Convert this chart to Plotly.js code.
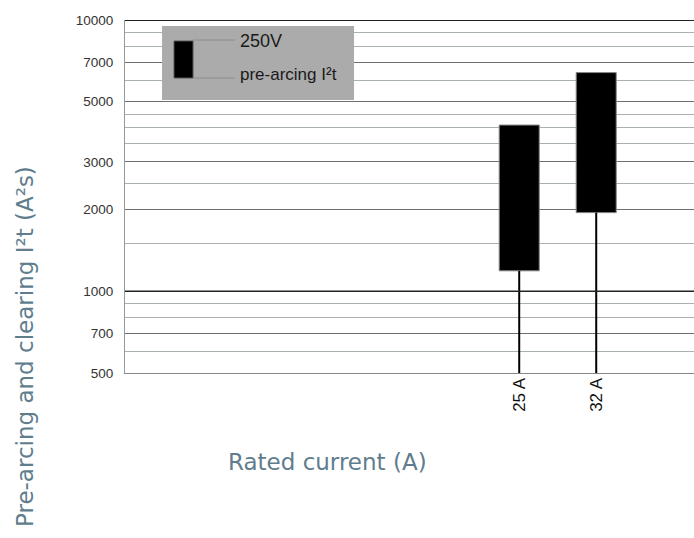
<!DOCTYPE html>
<html><head><meta charset="utf-8">
<script src="https://cdn.plot.ly/plotly-3.0.1.min.js"></script>
<style>html,body{margin:0;padding:0;background:#fff}#chart{width:694px;height:538px}</style>
</head><body><div id="chart"></div>
<script>
const categories = ['25 A', '32 A'];
const clearingI2t = [4100, 6400];     // top of box
const preArcingI2t = [1190, 1950];    // bottom of box
const axisFloor = 500;
const majorTicks = [500, 700, 1000, 2000, 3000, 5000, 7000, 10000];
const minorTicks = [600, 800, 900, 1500, 2500, 3500, 4000, 4500, 6000, 8000, 9000];

const whiskX = [], whiskY = [];
categories.forEach((c, i) => { whiskX.push(c, c, null); whiskY.push(axisFloor, preArcingI2t[i], null); });

const traces = [
  { type: 'scatter', mode: 'lines', x: whiskX, y: whiskY, line: {color: '#000', width: 2}, hoverinfo: 'skip', showlegend: false },
  { type: 'bar', x: categories, base: preArcingI2t, y: clearingI2t.map((v, i) => v - preArcingI2t[i]),
    width: 0.52, marker: {color: '#000', line: {color: '#888', width: 1}}, showlegend: false }
];

const font = 'Liberation Sans, Arial, sans-serif';
const titleFont = {family: 'DejaVu Sans, sans-serif', size: 23, color: '#5f7d8d', weight: 400};
const px = x => (x - 125) / 569, py = y => (373 - y) / 353;
const layout = {
  width: 694, height: 538,
  margin: {l: 125, r: 0, t: 20, b: 165},
  paper_bgcolor: '#fff', plot_bgcolor: '#fff',
  showlegend: false,
  font: {family: font, size: 13, color: '#222'},
  xaxis: {
    type: 'category', range: [-5.12, 2.27], tickangle: -90,
    showgrid: false, zeroline: false, showline: true, linecolor: '#888', linewidth: 1,
    ticks: '', ticklabelstandoff: -3,
    tickfont: {family: font, size: 17, color: '#111'}, fixedrange: true
  },
  yaxis: {
    type: 'log', range: [Math.log10(500), 4],
    tickmode: 'array', tickvals: majorTicks, ticktext: majorTicks.map(String),
    showgrid: true, gridcolor: '#6f6f6f', gridwidth: 1,
    minor: {tickmode: 'array', tickvals: minorTicks, showgrid: true, gridcolor: '#a9b0b0', gridwidth: 1, ticks: ''},
    zeroline: false, showline: true, linecolor: '#999', linewidth: 1,
    ticks: 'outside', ticklen: 8, tickcolor: 'rgba(0,0,0,0)',
    tickfont: {family: font, size: 13.5, color: '#333'}, fixedrange: true
  },
  shapes: [
    {type: 'line', xref: 'paper', yref: 'y', x0: 0, x1: 1, y0: 10000, y1: 10000, line: {color: '#222', width: 2}},
    {type: 'line', xref: 'paper', yref: 'y', x0: 0, x1: 1, y0: 1000, y1: 1000, line: {color: '#222', width: 1.5}},
    {type: 'rect', xref: 'paper', yref: 'paper', x0: px(162), x1: px(354), y0: py(100), y1: py(26),
     fillcolor: '#ababab', line: {width: 0}, layer: 'above'},
    {type: 'rect', xref: 'paper', yref: 'paper', x0: px(174), x1: px(193), y0: py(78), y1: py(41),
     fillcolor: '#000', line: {color: '#555', width: 1}, layer: 'above'},
    {type: 'line', xref: 'paper', yref: 'paper', x0: px(193), x1: px(235), y0: py(40), y1: py(40),
     line: {color: '#8c8c8c', width: 1}, layer: 'above'},
    {type: 'line', xref: 'paper', yref: 'paper', x0: px(193), x1: px(235), y0: py(78), y1: py(78),
     line: {color: '#8c8c8c', width: 1}, layer: 'above'}
  ],
  annotations: [
    {text: '250V', xref: 'paper', yref: 'paper', x: px(238), y: py(41), xanchor: 'left', yanchor: 'middle',
     showarrow: false, font: {family: font, size: 18, color: '#1a1a1a'}},
    {text: 'pre-arcing I²t', xref: 'paper', yref: 'paper', x: px(238), y: py(74), xanchor: 'left', yanchor: 'middle',
     showarrow: false, font: {family: font, size: 17, color: '#1a1a1a'}},
    {text: 'Rated current (A)', xref: 'paper', yref: 'paper', x: px(327), y: py(462), xanchor: 'center', yanchor: 'middle',
     showarrow: false, font: titleFont},
    {text: 'Pre-arcing and clearing I²t (A²s)', xref: 'paper', yref: 'paper', x: px(25), y: py(347), xanchor: 'center', yanchor: 'middle',
     textangle: -90, showarrow: false, font: titleFont}
  ]
};

Plotly.newPlot('chart', traces, layout, {staticPlot: true, displayModeBar: false});
</script></body></html>
